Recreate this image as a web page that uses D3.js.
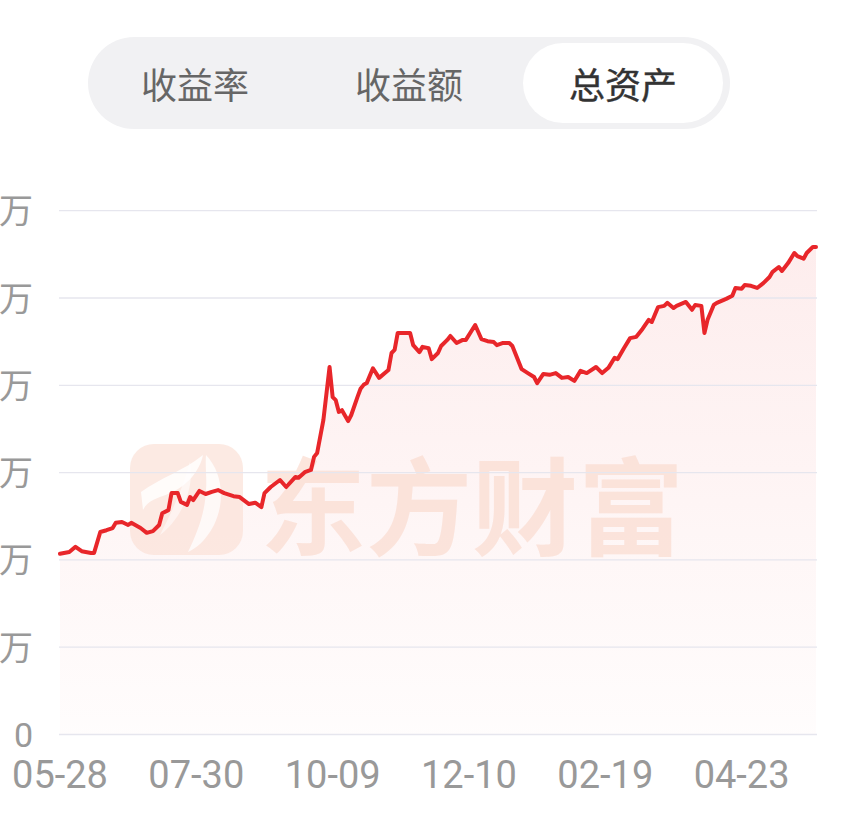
<!DOCTYPE html>
<html><head><meta charset="utf-8">
<script src="https://cdn.jsdelivr.net/npm/d3@7"></script>
<style>
html,body{margin:0;padding:0;background:#fff;overflow:hidden;}
svg{display:block;}
</style></head>
<body><svg id="c" width="865" height="827"></svg>
<script>
// ---- data ----
const tabLabels = ["收益率", "收益额", "总资产"];
const selectedTab = 2;
const yTickValues = [0, 2, 4, 6, 8, 10, 12];
const yTickLabels = ["0", "2万", "4万", "6万", "8万", "10万", "12万"];
const xTickDays = [0, 44, 88, 132, 176, 220];
const xTickLabels = ["05-28", "07-30", "10-09", "12-10", "02-19", "04-23"];
const totalDays = 244;
const watermarkText = "东方财富";
// trading-day index and total assets (万)
const days = [0,3,5,7,10,11,13,15,17,18,20,22,23,26,28,30,32,33,35,36,38,39,41,42,43,45,47,49,51,53,56,58,61,63,65,66,68,71,73,76,77,79,81,82,83,85,87,88,89,90,91,93,94,96,97,98,99,101,103,106,107,108,109,111,113,114,116,117,119,120,122,123,125,126,128,130,131,134,136,138,140,141,143,145,146,149,151,153,154,156,158,160,162,164,166,168,170,173,175,177,179,180,182,184,186,188,190,191,193,195,196,198,199,202,204,205,207,208,209,211,212,215,217,218,220,221,223,225,227,229,230,232,233,235,237,238,240,241,243,244];
const assets = [4.14,4.18,4.30,4.20,4.16,4.16,4.64,4.68,4.73,4.85,4.87,4.80,4.85,4.73,4.62,4.66,4.80,5.07,5.14,5.53,5.53,5.33,5.26,5.44,5.37,5.58,5.51,5.56,5.60,5.53,5.46,5.44,5.28,5.31,5.21,5.53,5.67,5.83,5.67,5.90,5.88,6.01,6.06,6.36,6.45,7.20,8.42,7.73,7.66,7.39,7.43,7.18,7.32,7.73,7.92,8.01,8.05,8.39,8.17,8.35,8.74,8.81,9.20,9.20,9.20,8.92,8.76,8.88,8.85,8.60,8.74,8.90,9.04,9.13,8.97,9.04,9.04,9.38,9.06,9.01,8.99,8.92,8.97,8.97,8.90,8.37,8.28,8.19,8.05,8.26,8.24,8.28,8.17,8.19,8.10,8.33,8.28,8.42,8.28,8.40,8.63,8.60,8.85,9.08,9.11,9.29,9.50,9.45,9.79,9.82,9.89,9.77,9.82,9.91,9.73,9.84,9.82,9.20,9.50,9.84,9.89,9.98,10.05,10.23,10.21,10.30,10.28,10.23,10.34,10.48,10.60,10.71,10.62,10.80,11.03,10.96,10.90,11.03,11.17,11.17];

const series = days.map((d, i) => ({ d, v: assets[i] }));

const svg = d3.select("#c");
const CJK = "'Noto Sans CJK SC','Noto Sans',sans-serif";
const NUM = "Roboto,'Noto Sans',sans-serif";

// ---- tab bar ----
const tabX0 = 88, tabX1 = 730, tabY0 = 37, tabY1 = 129;
const tabBand = d3.scaleBand().domain(d3.range(tabLabels.length)).range([tabX0, tabX1]);
svg.append("rect").attr("x", tabX0).attr("y", tabY0).attr("width", tabX1 - tabX0)
  .attr("height", tabY1 - tabY0).attr("rx", (tabY1 - tabY0) / 2).attr("fill", "#f1f1f3");
const selX = tabBand(selectedTab);
svg.append("rect").attr("x", selX + 7).attr("y", tabY0 + 6).attr("width", tabBand.bandwidth() - 14)
  .attr("height", tabY1 - tabY0 - 12).attr("rx", (tabY1 - tabY0 - 12) / 2).attr("fill", "#ffffff");
svg.selectAll("text.tab").data(tabLabels).enter().append("text")
  .attr("class", "tab")
  .attr("x", (d, i) => tabBand(i) + tabBand.bandwidth() / 2)
  .attr("y", (tabY0 + tabY1) / 2)
  .attr("dominant-baseline", "central")
  .attr("text-anchor", "middle")
  .attr("font-family", CJK)
  .attr("font-size", 36)
  .attr("font-weight", 400)
  .attr("fill", (d, i) => i === selectedTab ? "#333333" : "#666666")
  .attr("stroke", (d, i) => i === selectedTab ? "#333333" : "none")
  .attr("stroke-width", 0.4)
  .text(d => d);

// ---- scales ----
const x = d3.scaleLinear().domain([0, totalDays]).range([60, 816]);
const y = d3.scaleLinear().domain([0, 12]).range([734.5, 210.7]);

// ---- area ----
const defs = svg.append("defs");
const grad = defs.append("linearGradient").attr("id", "ag")
  .attr("gradientUnits", "userSpaceOnUse").attr("x1", 0).attr("x2", 0)
  .attr("y1", y(d3.max(assets))).attr("y2", y(0));
grad.append("stop").attr("offset", "0").attr("stop-color", "#ea2a2a").attr("stop-opacity", 0.085);
grad.append("stop").attr("offset", "1").attr("stop-color", "#ea2a2a").attr("stop-opacity", 0.012);

svg.append("path").datum(series)
  .attr("fill", "url(#ag)")
  .attr("d", d3.area().x(p => x(p.d)).y0(y(0)).y1(p => y(p.v)));

// ---- watermark ----
const wm = svg.append("g").attr("opacity", 0.7);
wm.append("rect").attr("x", 130).attr("y", 444).attr("width", 113).attr("height", 111)
  .attr("rx", 24).attr("fill", "#fce2d8");
wm.append("path").attr("fill", "#ffffff").attr("opacity", 0.85)
  .attr("d", "M141,492 C160,478 185,470 203,455 C200,470 188,486 168,494 C158,498 148,500 143,510 Z");
wm.append("path").attr("fill", "#ffffff").attr("opacity", 0.85)
  .attr("d", "M206,455 C222,472 226,500 214,525 C205,542 196,548 188,552 C196,535 205,515 206,490 C207,478 205,466 206,455 Z");
wm.append("path").attr("fill", "#ffffff").attr("opacity", 0.6)
  .attr("d", "M190,462 C195,490 180,520 160,535 C172,512 182,490 190,462 Z");
wm.append("text").attr("x", 260).attr("y", 501)
  .attr("dominant-baseline", "central")
  .attr("font-family", CJK).attr("font-weight", 700).attr("font-size", 106)
  .attr("fill", "#fbdcd0").text(watermarkText);

// ---- grid ----
svg.selectAll("line.grid").data(yTickValues).enter().append("line")
  .attr("x1", 59).attr("x2", 817)
  .attr("y1", d => y(d)).attr("y2", d => y(d))
  .attr("stroke", "#e6e6ee").attr("stroke-width", 1.3);

// ---- y labels ----
svg.selectAll("text.yl").data(yTickValues).enter().append("text")
  .attr("x", 33).attr("y", d => y(d) + 12.5)
  .attr("text-anchor", "end")
  .attr("font-family", (d, i) => i === 0 ? NUM : CJK)
  .attr("font-size", 34)
  .attr("fill", "#999999")
  .text((d, i) => yTickLabels[i]);

// ---- x labels ----
svg.selectAll("text.xl").data(xTickDays).enter().append("text")
  .attr("x", d => x(d)).attr("y", 788)
  .attr("text-anchor", "middle")
  .attr("font-family", NUM)
  .attr("font-size", 38)
  .attr("fill", "#999999")
  .text((d, i) => xTickLabels[i]);

// ---- line ----
svg.append("path").datum(series)
  .attr("fill", "none")
  .attr("stroke", "#e8262a").attr("stroke-width", 4)
  .attr("stroke-linejoin", "round").attr("stroke-linecap", "round")
  .attr("d", d3.line().x(p => x(p.d)).y(p => y(p.v)));
</script>
</body></html>
